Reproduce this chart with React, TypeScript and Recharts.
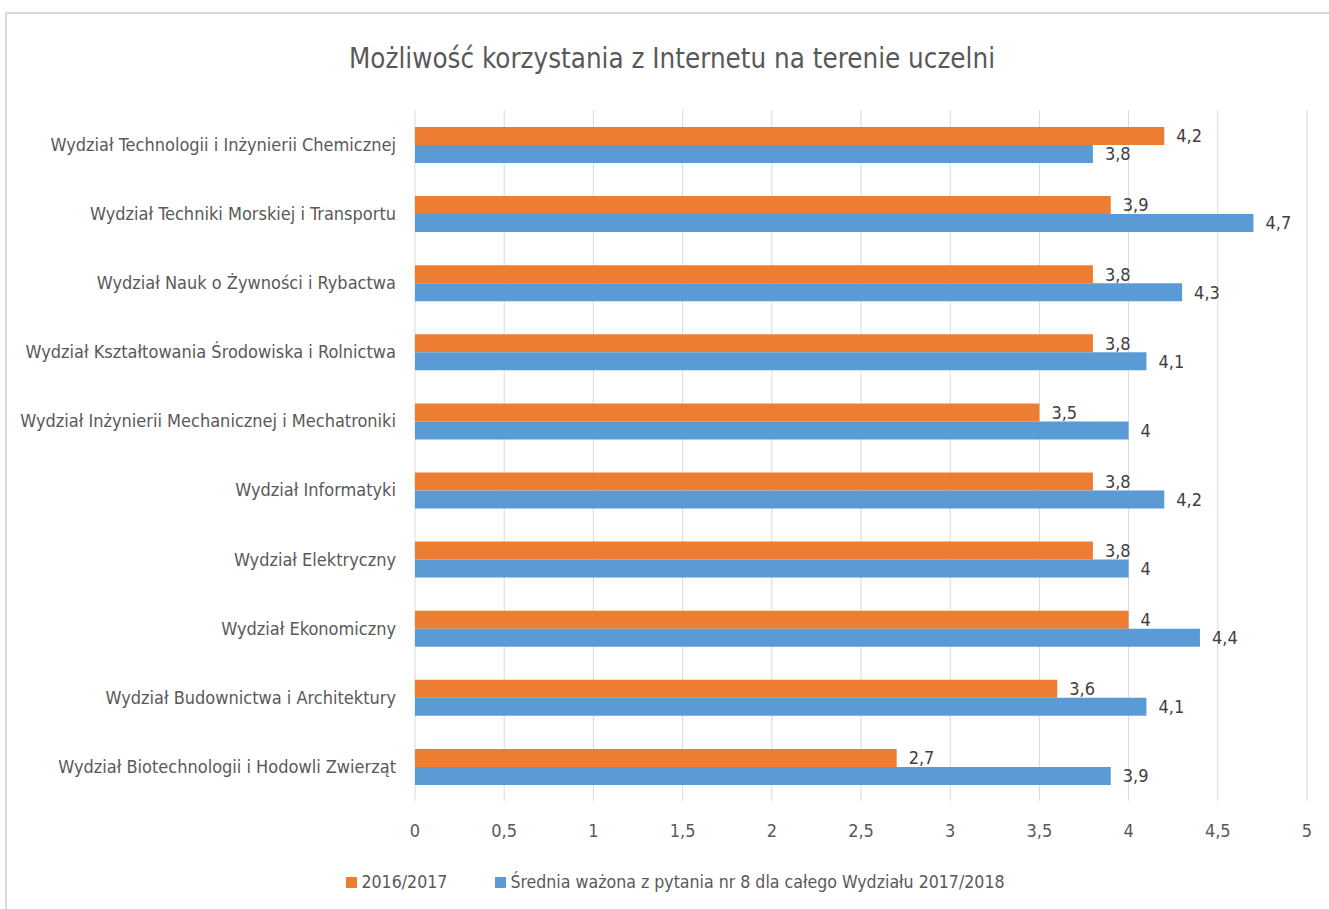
import React from "react";
import { BarChart, Bar, XAxis, YAxis, CartesianGrid, Legend, LabelList } from "recharts";

const faculties = [
  "Wydział Technologii i Inżynierii Chemicznej",
  "Wydział Techniki Morskiej i Transportu",
  "Wydział Nauk o Żywności i Rybactwa",
  "Wydział Kształtowania Środowiska i Rolnictwa",
  "Wydział Inżynierii Mechanicznej i Mechatroniki",
  "Wydział Informatyki",
  "Wydział Elektryczny",
  "Wydział Ekonomiczny",
  "Wydział Budownictwa i Architektury",
  "Wydział Biotechnologii i Hodowli Zwierząt",
];
const year2016 = [4.2, 3.9, 3.8, 3.8, 3.5, 3.8, 3.8, 4, 3.6, 2.7];
const year2017 = [3.8, 4.7, 4.3, 4.1, 4, 4.2, 4, 4.4, 4.1, 3.9];
const xTicks = [0, 0.5, 1, 1.5, 2, 2.5, 3, 3.5, 4, 4.5, 5];

const SERIES = [
  { key: "y2016", label: "2016/2017", color: "#ED7D31" },
  { key: "y2017", label: "Średnia ważona z pytania nr 8 dla całego Wydziału 2017/2018", color: "#5B9BD5" },
];

const FONT = "'Liberation Sans Narrow', 'DejaVu Sans Condensed', sans-serif";
const TEXT = "#595959";

const data = faculties.map((name, i) => ({ name, y2016: year2016[i], y2017: year2017[i] }));

const fmt = (v: number) => String(v).replace(".", ",");

const LegendContent = () => (
  <div
    style={{
      display: "flex",
      justifyContent: "center",
      gap: 48,
      paddingLeft: 44,
      fontFamily: FONT,
      fontSize: 17.6,
      color: TEXT,
    }}
  >
    {SERIES.map((s) => (
      <div key={s.key} style={{ display: "flex", alignItems: "center" }}>
        <span style={{ display: "inline-block", width: 11, height: 11, background: s.color, marginRight: 4 }} />
        {s.label}
      </div>
    ))}
  </div>
);

export default function App() {
  return (
    <div style={{ position: "absolute", left: 0, top: 0, width: 1329, height: 909, background: "#fff", overflow: "hidden" }}>
      <div
        style={{
          position: "absolute",
          left: 5,
          top: 12,
          right: -10,
          bottom: -10,
          borderLeft: "2px solid #d9d9d9",
          borderTop: "2px solid #d9d9d9",
        }}
      />
      <div
        style={{
          position: "absolute",
          top: 42,
          left: 0,
          width: 1344,
          textAlign: "center",
          fontFamily: FONT,
          fontSize: 27.5,
          color: TEXT,
        }}
      >
        Możliwość korzystania z Internetu na terenie uczelni
      </div>
      <div style={{ position: "absolute", left: 0, top: 0 }}>
        <BarChart
          width={1329}
          height={909}
          data={data}
          layout="vertical"
          margin={{ top: 110, right: 22, bottom: 17, left: 0 }}
          barGap={0}
          barSize={18}
        >
          <CartesianGrid horizontal={false} stroke="#d9d9d9" />
          <XAxis
            type="number"
            domain={[0, 5]}
            ticks={xTicks}
            tickFormatter={fmt}
            axisLine={false}
            tickLine={false}
            tickMargin={17}
            height={71}
            tick={{ fill: TEXT, fontFamily: FONT, fontSize: 18 }}
          />
          <YAxis
            type="category"
            dataKey="name"
            width={415}
            axisLine={false}
            tickLine={false}
            tickMargin={13}
            interval={0}
            tick={{ fill: TEXT, fontFamily: FONT, fontSize: 18 }}
          />
          <Legend verticalAlign="bottom" content={<LegendContent />} />
          {SERIES.map((s) => (
            <Bar key={s.key} dataKey={s.key} name={s.label} fill={s.color} isAnimationActive={false}>
              <LabelList
                dataKey={s.key}
                position="right"
                offset={12}
                formatter={(v: number) => fmt(v)}
                style={{ fill: "#404040", fontFamily: FONT, fontSize: 18 }}
              />
            </Bar>
          ))}
        </BarChart>
      </div>
    </div>
  );
}
